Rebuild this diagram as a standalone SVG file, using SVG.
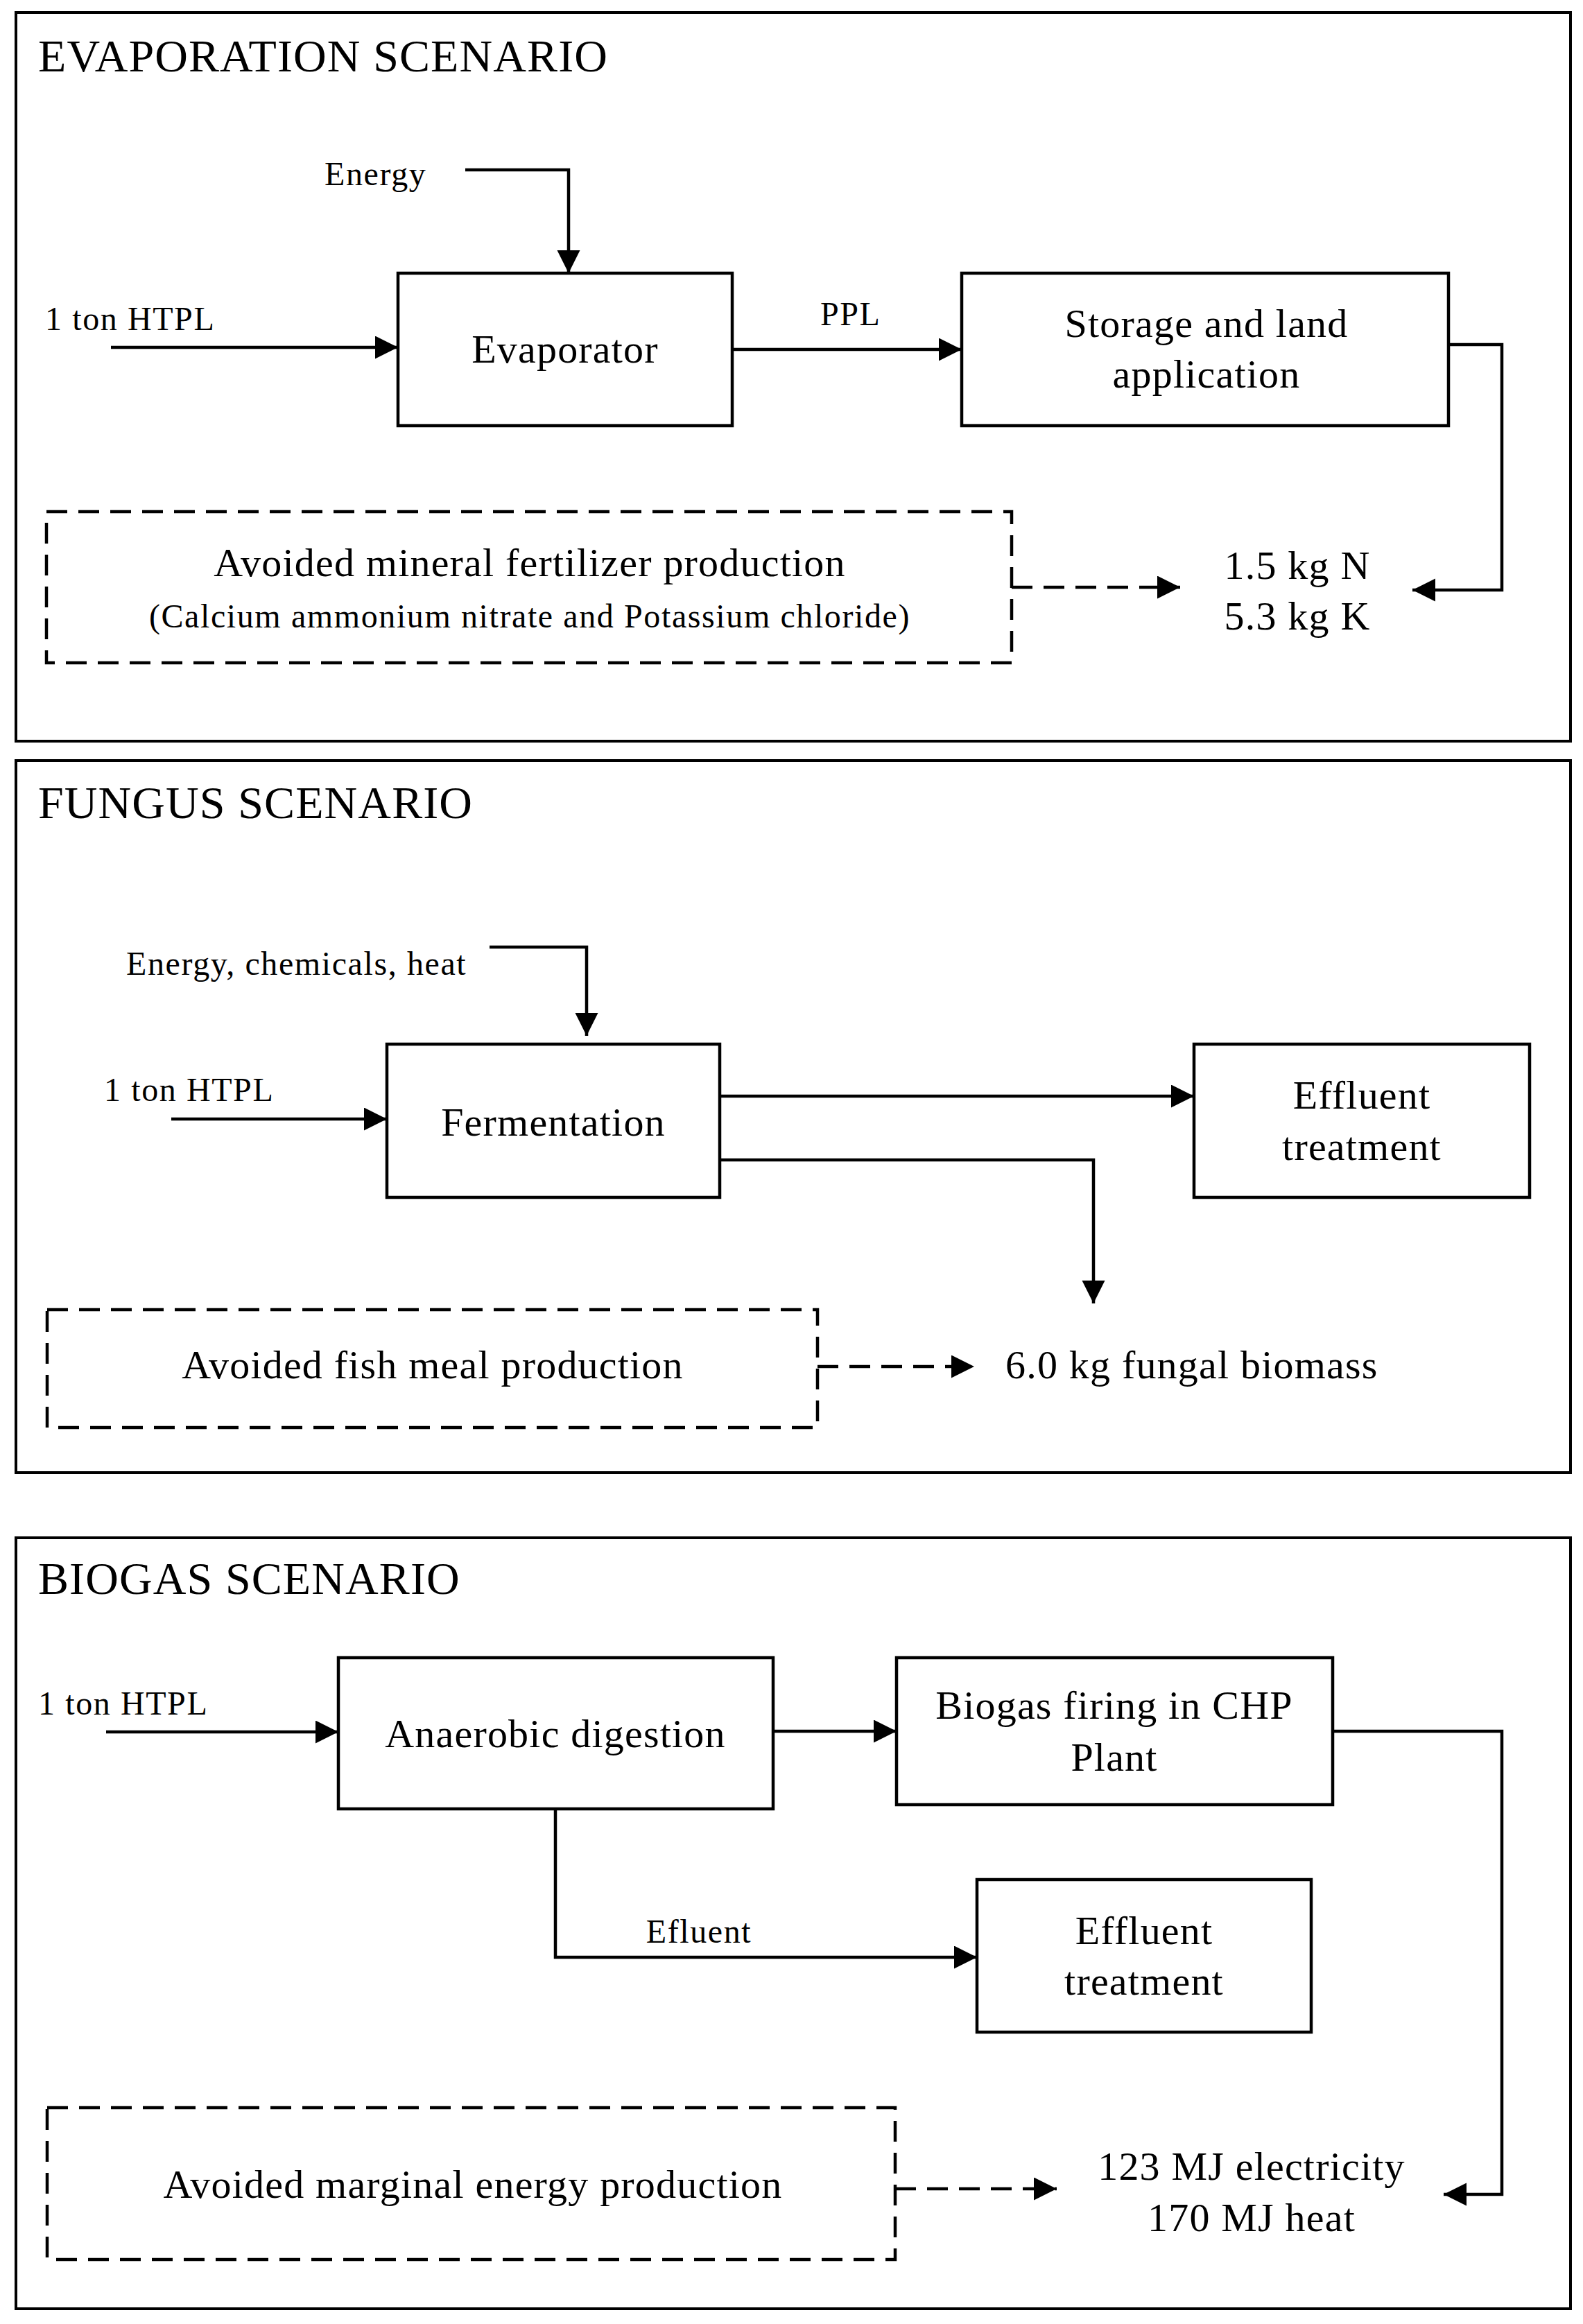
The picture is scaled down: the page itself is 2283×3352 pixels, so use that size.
<svg xmlns="http://www.w3.org/2000/svg" width="2283" height="3352" viewBox="0 0 2283 3352">
<style>
text{font-family:"Liberation Serif","Times New Roman",serif;fill:#000}
.t{font-size:66px;letter-spacing:1.1px}
.b{font-size:58px;letter-spacing:1.2px}
.l{font-size:48px;letter-spacing:1.6px}
.m{text-anchor:middle}
.frame{fill:none;stroke:#000;stroke-width:4}
.box{fill:#fff;stroke:#000;stroke-width:4.5}
.dbox{fill:none;stroke:#000;stroke-width:4.5;stroke-dasharray:30 16}
.c{fill:none;stroke:#000;stroke-width:4.5}
.d{fill:none;stroke:#000;stroke-width:4.5;stroke-dasharray:30 16}
</style>
<defs>
<marker id="ah" markerUnits="userSpaceOnUse" markerWidth="36" markerHeight="34" refX="33" refY="16.5" orient="auto">
<path d="M0,0 L33,16.5 L0,33 Z" fill="#000"/>
</marker>
</defs>
<rect width="2283" height="3352" fill="#fff"/>
<g id="frames">
<rect class="frame" x="23" y="18" width="2242" height="1051"/>
<rect class="frame" x="23" y="1097" width="2242" height="1027"/>
<rect class="frame" x="23" y="2218" width="2242" height="1112"/>
<text class="t" x="55" y="103">EVAPORATION SCENARIO</text>
<text class="t" x="55" y="1180">FUNGUS SCENARIO</text>
<text class="t" x="55" y="2299">BIOGAS SCENARIO</text>
</g>
<g id="connectors">
<path class="c" d="M671,245 H820 V394" marker-end="url(#ah)"/>
<path class="c" d="M160,501 H574" marker-end="url(#ah)"/>
<path class="c" d="M1056,504 H1387" marker-end="url(#ah)"/>
<path class="c" d="M2089,497 H2166 V851 H2037" marker-end="url(#ah)"/>
<path class="d" d="M1459,847 H1702" marker-end="url(#ah)"/>
<path class="c" d="M706,1366 H846 V1494" marker-end="url(#ah)"/>
<path class="c" d="M247,1614 H558" marker-end="url(#ah)"/>
<path class="c" d="M1038,1581 H1722" marker-end="url(#ah)"/>
<path class="c" d="M1038,1673 H1577 V1880" marker-end="url(#ah)"/>
<path class="d" d="M1179,1971 H1405" marker-end="url(#ah)"/>
<path class="c" d="M153,2498 H488" marker-end="url(#ah)"/>
<path class="c" d="M1115,2497 H1293" marker-end="url(#ah)"/>
<path class="c" d="M1922,2497 H2166 V3165 H2082" marker-end="url(#ah)"/>
<path class="c" d="M801,2609 V2823 H1409" marker-end="url(#ah)"/>
<path class="d" d="M1291,3157 H1524" marker-end="url(#ah)"/>
<text class="l" x="468" y="267">Energy</text>
<text class="l" x="65" y="476">1 ton HTPL</text>
<text class="l" x="1183" y="469">PPL</text>
<text class="l" x="182" y="1406">Energy, chemicals, heat</text>
<text class="l" x="150" y="1588">1 ton HTPL</text>
<text class="l" x="55" y="2473">1 ton HTPL</text>
<text class="l m" x="1008" y="2802">Efluent</text>
</g>
<g id="evaporator">
<rect class="box" x="574" y="394" width="482" height="220"/>
<text class="b m" x="815" y="523">Evaporator</text>
</g>
<g id="storage">
<rect class="box" x="1387" y="394" width="702" height="220"/>
<text class="b m" x="1740" y="486">Storage and land</text>
<text class="b m" x="1740" y="559">application</text>
</g>
<g id="nk-output">
<text class="b m" x="1871" y="835">1.5 kg N</text>
<text class="b m" x="1871" y="908">5.3 kg K</text>
</g>
<g id="avoided-fertilizer">
<rect class="dbox" x="67" y="738" width="1392" height="218"/>
<text class="b m" x="764" y="831">Avoided mineral fertilizer production</text>
<text class="l m" x="764" y="905">(Calcium ammonium nitrate and Potassium chloride)</text>
</g>
<g id="fermentation">
<rect class="box" x="558" y="1506" width="480" height="221"/>
<text class="b m" x="798" y="1638">Fermentation</text>
</g>
<g id="effluent-fungus">
<rect class="box" x="1722" y="1506" width="484" height="221"/>
<text class="b m" x="1964" y="1599">Effluent</text>
<text class="b m" x="1964" y="1673">treatment</text>
</g>
<g id="fungal-output">
<text class="b" x="1450" y="1988">6.0 kg fungal biomass</text>
</g>
<g id="avoided-fishmeal">
<rect class="dbox" x="68" y="1889" width="1111" height="170"/>
<text class="b m" x="624" y="1988">Avoided fish meal production</text>
</g>
<g id="anaerobic">
<rect class="box" x="488" y="2391" width="627" height="218"/>
<text class="b m" x="801" y="2520">Anaerobic digestion</text>
</g>
<g id="chp">
<rect class="box" x="1293" y="2391" width="629" height="212"/>
<text class="b m" x="1607" y="2479">Biogas firing in CHP</text>
<text class="b m" x="1607" y="2554">Plant</text>
</g>
<g id="effluent-biogas">
<rect class="box" x="1409" y="2711" width="482" height="220"/>
<text class="b m" x="1650" y="2804">Effluent</text>
<text class="b m" x="1650" y="2877">treatment</text>
</g>
<g id="energy-output">
<text class="b m" x="1805" y="3144">123 MJ electricity</text>
<text class="b m" x="1805" y="3218">170 MJ heat</text>
</g>
<g id="avoided-energy">
<rect class="dbox" x="68" y="3040" width="1223" height="219"/>
<text class="b m" x="682" y="3170">Avoided marginal energy production</text>
</g>
</svg>
